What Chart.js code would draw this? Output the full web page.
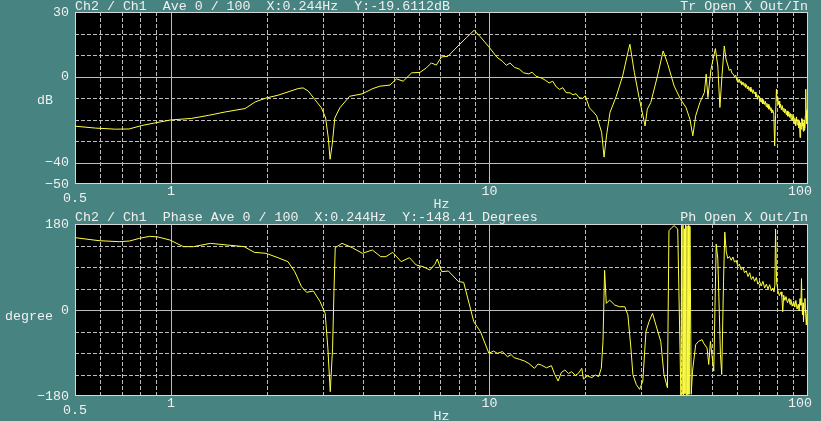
<!DOCTYPE html>
<html>
<head>
<meta charset="utf-8">
<script src="https://cdn.jsdelivr.net/npm/chart.js@4.4.0/dist/chart.umd.min.js"></script>
<style>
html, body { margin: 0; padding: 0; background: #478381; width: 821px; height: 421px; overflow: hidden; }
canvas { position: absolute; left: 0; }
#mag { top: 0; }
#phase { top: 210px; }
</style>
</head>
<body>
<canvas id="mag" width="821" height="210"></canvas>
<canvas id="phase" width="821" height="211"></canvas>
<script>
// Transfer function Ch2/Ch1, magnitude (dB)
const magFreq = [
    0.5, 0.58, 0.67, 0.74, 0.81, 0.89, 1.0, 1.16, 1.31, 1.48, 1.71, 1.84, 1.99, 2.17, 2.51, 2.6, 2.7, 2.83, 2.97,
    3.06, 3.12, 3.16, 3.21, 3.27, 3.39, 3.64, 3.98, 4.31, 4.53, 4.87, 5.11, 5.36, 5.7, 6.05, 6.34, 6.57, 6.81,
    7.07, 7.41, 7.97, 8.46, 8.95, 9.33, 9.92, 10.55, 11.0, 11.3, 11.6, 12.0, 12.4, 12.8, 13.3, 13.6, 14.0, 14.6,
    15.0, 15.4, 15.8, 16.2, 16.6, 17.0, 17.4, 17.9, 18.3, 18.7, 19.1, 19.6, 20.0, 20.6, 21.2, 21.7, 22.5, 22.9,
    23.3, 23.9, 25.0, 26.2, 27.2, 27.6, 28.5, 29.5, 30.8, 31.3, 32.1, 33.7, 35.1, 36.3, 38.0, 39.8, 41.4, 42.6,
    43.5, 44.4, 45.8, 47.3, 47.9, 48.5, 49.6, 51.2, 52.1, 52.9, 53.7, 54.6, 55.3,
    56.1, 56.6, 57.2, 57.7, 58.3, 58.8, 59.3, 59.8, 60.3, 60.8, 61.2, 61.6, 62.0, 62.5, 63.0, 63.4, 63.7, 64.1, 64.5, 64.9,
    65.3, 65.8, 66.2, 66.6, 67.0, 67.4, 67.8, 68.2, 68.6, 69.0, 69.4, 69.8, 70.2, 70.6, 71.0, 71.4, 71.8, 72.2, 72.6, 73.0,
    73.5, 73.9, 74.3, 74.7, 75.0, 75.4, 75.8, 76.2, 76.5, 77.0, 77.5, 78.1, 78.6, 79.1, 79.6, 80.0, 80.3, 80.7, 81.1, 81.5,
    82.0, 82.5, 83.0, 83.5, 84.0, 84.5, 85.0, 85.5, 86.0, 86.5, 87.1, 87.6, 88.0, 88.5, 89.0, 89.6, 90.2, 90.6, 91.0, 91.5,
    92.0, 92.5, 93.0, 93.6, 94.0, 94.4, 94.8, 95.2, 95.6, 96.0, 96.3, 96.6, 96.9, 97.2, 97.5, 97.8, 98.1, 98.4, 98.7, 98.9,
    99.2, 99.5, 99.8, 100
];
const magDb = [
    -23.1, -24.0, -24.5, -24.4, -22.8, -21.6, -20.2, -19.5, -18.1, -16.5, -14.9, -11.8, -10.0, -8.7, -5.6, -5.3, -6.8, -10.7, -14.6,
    -19.3, -28.6, -38.5, -31.5, -19.3, -14.6, -9.2, -8.1, -5.6, -4.5, -4.0, -1.1, -2.2, 1.7, 1.9, 4.0, 6.3, 5.3,
    9.1, 9.4, 14.2, 18.0, 21.5, 18.7, 14.1, 9.0, 7.0, 5.2, 6.3, 4.2, 3.5, 1.7, 1.2, 2.0, 0.1, -0.8,
    -1.8, -3.0, -2.2, -4.8, -6.0, -5.2, -7.5, -7.6, -8.5, -8.0, -9.8, -10.2, -9.0, -14.6, -16.5, -18.3, -26.0, -37.5,
    -27.6, -16.7, -9.3, 0.3, 11.2, 15.0, 1.9, -9.8, -23.0, -15.2, -12.1, 0.3, 11.9, 5.7, -4.4, -10.6, -14.4, -19.9,
    -27.6, -18.3, -12.0, -7.4, 1.1, -9.8, 3.4, 13.0, 4.9, -14.4, 0.3, 14.2, 8.0,
    4.9, 2.8, 3.5, 1.5, 1.1, -0.2, 0.6, -1.8, -2.8, -1.2, -3.0, -2.0, -4.0, -2.6, -4.4, -3.2, -5.1, -3.8, -5.8, -4.5,
    -6.5, -5.0, -7.0, -5.8, -7.8, -6.2, -8.0, -7.2, -9.5, -8.2, -10.6, -8.8, -9.8, -11.8, -10.2, -12.0, -10.5, -12.8, -11.2, -13.0,
    -11.5, -14.0, -12.5, -14.5, -13.0, -15.2, -13.8, -15.8, -14.5, -17.0, -15.5, -17.5, -32.3, -18.0, -5.9, -11.5, -9.5, -13.0, -11.5, -14.5,
    -12.8, -15.5, -13.5, -16.2, -14.8, -17.0, -15.2, -17.8, -16.0, -18.5, -16.5, -19.0, -17.2, -20.0, -17.5, -20.5, -18.5, -22.0, -19.5, -23.0,
    -18.8, -22.5, -20.0, -24.0, -20.5, -28.4, -21.5, -24.5, -19.5, -23.0, -20.0, -25.5, -21.5, -25.0, -20.5, -24.0, -18.0, -5.9, -20.0, -16.0,
    -22.0, -15.2, -21.0, -18.0
];

// Phase (degrees)
const phaseFreq = [
    0.5, 0.595, 0.688, 0.741, 0.797, 0.858, 0.911, 0.993, 1.094, 1.178, 1.33, 1.503, 1.698, 1.827, 1.99, 2.168,
    2.33, 2.448, 2.57, 2.667, 2.801, 2.94, 3.05, 3.11, 3.164, 3.218, 3.25, 3.28, 3.445, 3.71, 3.99, 4.29, 4.56,
    4.73, 4.97, 5.28, 5.61, 5.89, 6.19, 6.5, 6.74, 6.86, 7.08, 7.43, 8.0, 8.3, 8.93, 9.37, 9.96, 10.3, 10.59,
    10.98, 11.39, 11.7, 11.96, 12.4, 12.87, 13.3, 13.85, 14.2, 14.54, 15.1, 15.65, 16.03, 16.43, 16.8, 17.25,
    17.7, 18.11, 18.6, 19.02, 19.49, 19.73, 20.3, 20.96, 21.5, 22.01, 22.45, 22.72, 22.99, 23.27, 23.84, 24.73,
    25.6, 26.6, 27.2, 27.8, 28.2, 28.9, 29.6, 30.3, 31.0, 31.7, 32.5, 33.3, 34.5, 35.3, 36.2, 36.6, 37.3, 38.0,
    39.0, 39.9, 40.1, 40.3, 40.5, 40.7, 40.9, 41.1, 41.3, 41.5, 41.7, 41.9, 42.1, 42.3, 42.6, 43.0, 43.4, 44.4,
    45.3, 46.5, 47.0, 48.2, 48.8, 49.4, 50.6, 51.5, 52.1, 52.7, 53.1, 53.6, 54.3, 54.8,
    55.4, 56.0, 56.7, 57.4, 58.1, 58.8, 59.5, 60.2, 60.9, 61.7, 62.5, 63.2, 64.0, 64.8, 65.6, 66.4, 67.2, 68.0, 68.8, 69.6,
    70.5, 71.3, 72.2, 73.1, 74.0, 74.9, 75.8, 76.7, 77.6, 78.2, 78.7, 79.1, 79.7, 80.4, 81.3, 82.3, 82.8, 83.3, 83.9, 84.6,
    85.3, 86.2, 87.2, 87.8, 88.3, 89.2, 90.2, 90.9, 91.6, 92.4, 93.2, 93.8, 94.4, 95.0, 95.4, 95.8, 96.1, 96.5, 96.8, 97.3,
    97.8, 98.3, 98.8, 99.3, 99.8
];
const phaseDeg = [
    151.4, 145.1, 143.0, 144.4, 150.0, 154.2, 152.8, 146.5, 132.6, 132.6, 139.5, 136.0, 132.6, 120.7, 118.6, 109.5,
    101.2, 80.2, 48.8, 37.0, 39.8, 17.4, -7.0, -80.0, -171.0, -80.0, 38.4, 130.5, 139.5, 130.5, 118.6, 125.6, 111.6,
    111.6, 120.7, 101.2, 109.5, 94.2, 90.7, 83.7, 95.6, 106.7, 80.2, 81.6, 59.3, 57.9, -24.4, -45.4, -90.7, -86.0, -90.7,
    -87.2, -97.7, -93.5, -99.8, -103.0, -106.7, -112.0, -122.1, -113.0, -115.1, -121.0, -116.5, -134.7, -148.6, -131.0, -125.6,
    -133.0, -129.1, -137.0, -132.6, -122.1, -144.4, -138.0, -141.6, -136.0, -139.5, -122.1, -66.3, 83.0, 13.8, 20.8, 10.4,
    6.9, 6.9, -10.4, -79.6, -135.0, -155.8, -166.0, -148.8, -45.0, -24.2, -6.9, -31.2, -65.8, -135.0, -162.7, 166.0, 172.0, 176.5,
    169.6, -178.0, 175.0, -176.0, 178.0, -178.0, 170.0, -175.0, 178.0, -178.0, 176.0, -177.0, 177.0, -176.5, 175.0, -176.5, -128.0, -72.7,
    -65.8, -62.0, -69.0, -79.6, -114.0, -65.8, -128.0, 138.0, 107.0, -10.0, -93.0, -135.0, 59.0, 163.0,
    121, 108, 112, 104, 111, 100, 104, 92, 96, 84, 90, 78, 82, 70, 78, 64, 70, 60, 68, 54,
    60, 50, 60, 46, 54, 44, 53, 40, 46, 38, 52, 169.6, 58.8, 41.5, 30, 38, 28, -3.5, 31, 20,
    28, 15, 24, 12, 22, 8, 18, 6, 20, 2, 12, -2, 24, 10, 65.8, 5, -10.4, 15, -24.2, 8,
    24.2, -8, -31.2, 0, 10.4
];

// grid and tick values
const freqGrid = [0.6, 0.7, 0.8, 0.9, 1, 2, 3, 4, 5, 6, 7, 8, 9, 10, 20, 30, 40, 50, 60, 70, 80, 90];
const freqMajor = [1, 10];
const freqTicks = [0.5, 1, 10, 100];
const freqLabels = ['0.5', '1', '10', '100'];
const magGrid = [20, 10, 0, -10, -20, -30, -40];
const magMajor = [0, -40];
const magTicks = [30, 0, -40, -50];
const phaseGrid = [135, 90, 45, 0, -45, -90, -135];
const phaseMajor = [0];
const phaseTicks = [180, 0, -180];

const MONO = '13.3px "Liberation Mono", "DejaVu Sans Mono", monospace';
const TEXT = '#f0f0f0';
const GRID = '#bcbcbc';
const TRACE = '#ffff40';

const frame = {
    id: 'frame',
    beforeDatasetsDraw(chart, args, o) {
        const { ctx, chartArea: a, scales: { x, y } } = chart;
        ctx.save();
        ctx.fillStyle = '#000';
        ctx.fillRect(a.left, a.top, a.right - a.left, a.bottom - a.top);
        ctx.lineWidth = 1;
        ctx.strokeStyle = GRID;
        freqGrid.forEach(v => {
            const px = Math.round(x.getPixelForValue(v)) + 0.5;
            ctx.setLineDash(freqMajor.includes(v) ? [] : [4, 2]);
            ctx.beginPath();
            ctx.moveTo(px, a.top);
            ctx.lineTo(px, a.bottom);
            ctx.stroke();
        });
        o.yGrid.forEach(v => {
            const py = Math.round(y.getPixelForValue(v)) + 0.5;
            ctx.setLineDash(o.yMajor.includes(v) ? [] : [4, 2]);
            ctx.beginPath();
            ctx.moveTo(a.left, py);
            ctx.lineTo(a.right, py);
            ctx.stroke();
        });
        ctx.setLineDash([]);
        ctx.strokeStyle = '#d6d6d6';
        ctx.strokeRect(Math.round(a.left) + 0.5, Math.round(a.top) + 0.5,
            Math.round(a.right - a.left) - 1, Math.round(a.bottom - a.top) - 1);
        ctx.restore();
    },
    afterDraw(chart, args, o) {
        const { ctx, chartArea: a, scales: { x, y } } = chart;
        ctx.save();
        ctx.font = MONO;
        ctx.fillStyle = TEXT;

        ctx.textBaseline = 'alphabetic';
        ctx.textAlign = 'left';
        ctx.fillText(o.title, a.left, o.titleY);
        ctx.textAlign = 'right';
        ctx.fillText(o.mode, a.right, o.titleY);

        ctx.textBaseline = 'middle';
        o.yTicks.forEach(v => {
            const py = Math.max(y.getPixelForValue(v), a.top - 2);
            ctx.fillText(String(v).replace('-', '\u2212'), a.left - 6, py);
        });

        ctx.textAlign = 'center';
        freqTicks.forEach((v, i) => {
            const px = Math.min(x.getPixelForValue(v), a.right - 8);
            const dy = v === 0.5 ? 14 : 7.5;
            ctx.fillText(freqLabels[i], px, a.bottom + dy);
        });
        ctx.fillText('Hz', (a.left + a.right) / 2, a.bottom + 20);

        ctx.textAlign = 'left';
        ctx.fillText(o.yLabel, o.yLabelX, o.yLabelY);
        ctx.restore();
    }
};

function makeChart(id, xs, ys, yMin, yMax, pad, opts) {
    return new Chart(document.getElementById(id), {
        type: 'line',
        data: {
            datasets: [{
                data: xs.map((f, i) => ({ x: f, y: ys[i] })),
                borderColor: TRACE,
                borderWidth: 1,
                pointRadius: 0,
                tension: 0,
                fill: false
            }]
        },
        options: {
            responsive: false,
            animation: false,
            devicePixelRatio: 1,
            layout: { padding: pad },
            plugins: { legend: { display: false }, tooltip: { enabled: false }, frame: opts },
            scales: {
                x: { type: 'logarithmic', min: 0.5, max: 100, display: false },
                y: { type: 'linear', min: yMin, max: yMax, display: false }
            }
        },
        plugins: [frame]
    });
}

makeChart('mag', magFreq, magDb, -50, 30, { left: 75, right: 13, top: 12, bottom: 26 }, {
    title: 'Ch2 / Ch1  Ave 0 / 100  X:0.244Hz  Y:-19.6112dB',
    mode: 'Tr Open X Out/In',
    titleY: 10,
    yGrid: magGrid,
    yMajor: magMajor,
    yTicks: magTicks,
    yLabel: 'dB',
    yLabelX: 37,
    yLabelY: 100
});

makeChart('phase', phaseFreq, phaseDeg, -180, 180, { left: 75, right: 13, top: 14, bottom: 25 }, {
    title: 'Ch2 / Ch1  Phase Ave 0 / 100  X:0.244Hz  Y:-148.41 Degrees',
    mode: 'Ph Open X Out/In',
    titleY: 11,
    yGrid: phaseGrid,
    yMajor: phaseMajor,
    yTicks: phaseTicks,
    yLabel: 'degree',
    yLabelX: 5,
    yLabelY: 106
});
</script>
</body>
</html>
